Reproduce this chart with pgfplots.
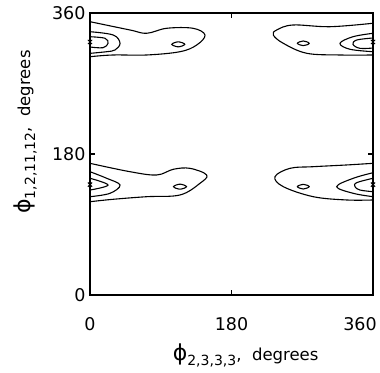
\documentclass[border=0pt]{standalone}
\usepackage{pgfplots}
\pgfplotsset{compat=1.18}
\usepackage{fontspec}
\setmainfont{DejaVu Sans}
\usetikzlibrary{calc}
\newcommand{\phisym}{{\fontsize{22}{22}\selectfont ϕ}}
\begin{document}
\begin{tikzpicture}
\begin{axis}[name=ax, scale only axis, width=283pt, height=282pt,
  xmin=0, xmax=360, ymin=0, ymax=360,
  xtick={0,180}, ytick={0,180,360},
  extra x ticks={360},
  extra x tick style={xticklabel style={xshift=-13pt}},
  tick align=inside, major tick length=5pt,
  axis line style={line width=1.2pt},
  tick style={line width=1.2pt, black},
  /pgf/number format/assume math mode=true,
  ticklabel style={font=\fontsize{17.5}{18}\selectfont},
  xticklabel style={yshift=-19pt},
  yticklabel style={xshift=-1pt},
  label style={font=\fontsize{16.5}{17}\selectfont},
  xlabel={\phisym\raisebox{-5pt}{\fontsize{14}{14}\selectfont 2,3,3,3},\ \ degrees},
  ylabel={\phisym\raisebox{-5pt}{\fontsize{14}{14}\selectfont 1,2,11,12},\ \ degrees},
  xlabel style={at={(axis description cs:0.55,0)}, anchor=center, yshift=-60pt},
  ylabel style={at={(axis description cs:0,0.578)}, anchor=center, yshift=65pt},
  clip=false,
  cycle list={{black, solid}},
  cont/.style={line width=1.1pt, black, smooth, tension=0.6}]
% top-left group
\addplot[cont] coordinates {(0,348.9)(50.9,338.3)(72.1,334.1)(97.6,340.5)(131.0,340.5)(146.3,331.9)(135.7,319.1)(114.5,310.6)(72.1,306.4)(29.3,306.4)(0,304.2)};
\addplot[cont] coordinates {(0,336.1)(29.6,331.9)(38.2,321.3)(31.8,312.8)(21.2,310.6)(0,308.5)};
\addplot[cont] coordinates {(0,329.7)(19.1,327.7)(22.9,321.3)(16.5,315.7)(0,316.6)};
\addplot[cont, smooth cycle] coordinates {(120.6,320.0)(112.3,323.2)(104.0,320.0)(112.3,316.8)};
% top-right group
\addplot[cont] coordinates {(360,346.9)(305.3,342.5)(258.2,344.7)(237.5,338.3)(233.2,331.9)(245.9,321.3)(275.6,308.6)(318.0,306.4)(360,306.4)};
\addplot[cont] coordinates {(360,334.1)(334.5,329.7)(318.0,321.3)(330.7,313.7)(360,310.6)};
\addplot[cont] coordinates {(360,328.1)(339.3,325.5)(334.5,320.0)(343.4,314.9)(360,315.3)};
\addplot[cont, smooth cycle] coordinates {(278.8,321.3)(271.3,324.3)(263.8,321.3)(271.3,318.3)};
% bottom-left group
\addplot[cont] coordinates {(0,168.1)(50.9,157.4)(84.8,153.2)(106.0,160.5)(127.2,161.7)(148.4,153.2)(139.9,142.6)(114.5,127.7)(72.1,125.5)(29.6,122.2)(0,119.1)};
\addplot[cont] coordinates {(0,157.4)(21.2,149.0)(38.2,140.4)(25.4,129.8)(0,125.5)};
\addplot[cont] coordinates {(0,149.0)(22.9,140.4)(0,134.0)};
\addplot[cont, smooth cycle] coordinates {(122.8,138.3)(114.5,141.5)(106.2,138.3)(114.5,135.1)};
% bottom-right group
\addplot[cont] coordinates {(360,168.1)(326.5,166.0)(284.0,163.8)(254.4,161.7)(235.3,151.0)(245.9,138.3)(284.0,125.5)(326.5,121.3)(360,121.3)};
\addplot[cont] coordinates {(360,156.1)(334.9,149.0)(313.8,138.3)(334.9,129.8)(360,125.5)};
\addplot[cont] coordinates {(360,149.0)(339.3,143.4)(337.1,138.3)(343.4,134.0)(360,131.9)};
\addplot[cont, smooth cycle] coordinates {(278.8,138.3)(271.3,141.3)(263.8,138.3)(271.3,135.3)};
% minima markers
\addplot[black, only marks, mark=x, mark size=3pt, line width=1pt] coordinates {(0,323)(360,323)(0,141)(360,141)};
\end{axis}
\pgfresetboundingbox
\path[use as bounding box] ($(ax.south west)+(-90pt,-77pt)$) rectangle ($(ax.north east)+(7pt,13pt)$);
\end{tikzpicture}
\end{document}
